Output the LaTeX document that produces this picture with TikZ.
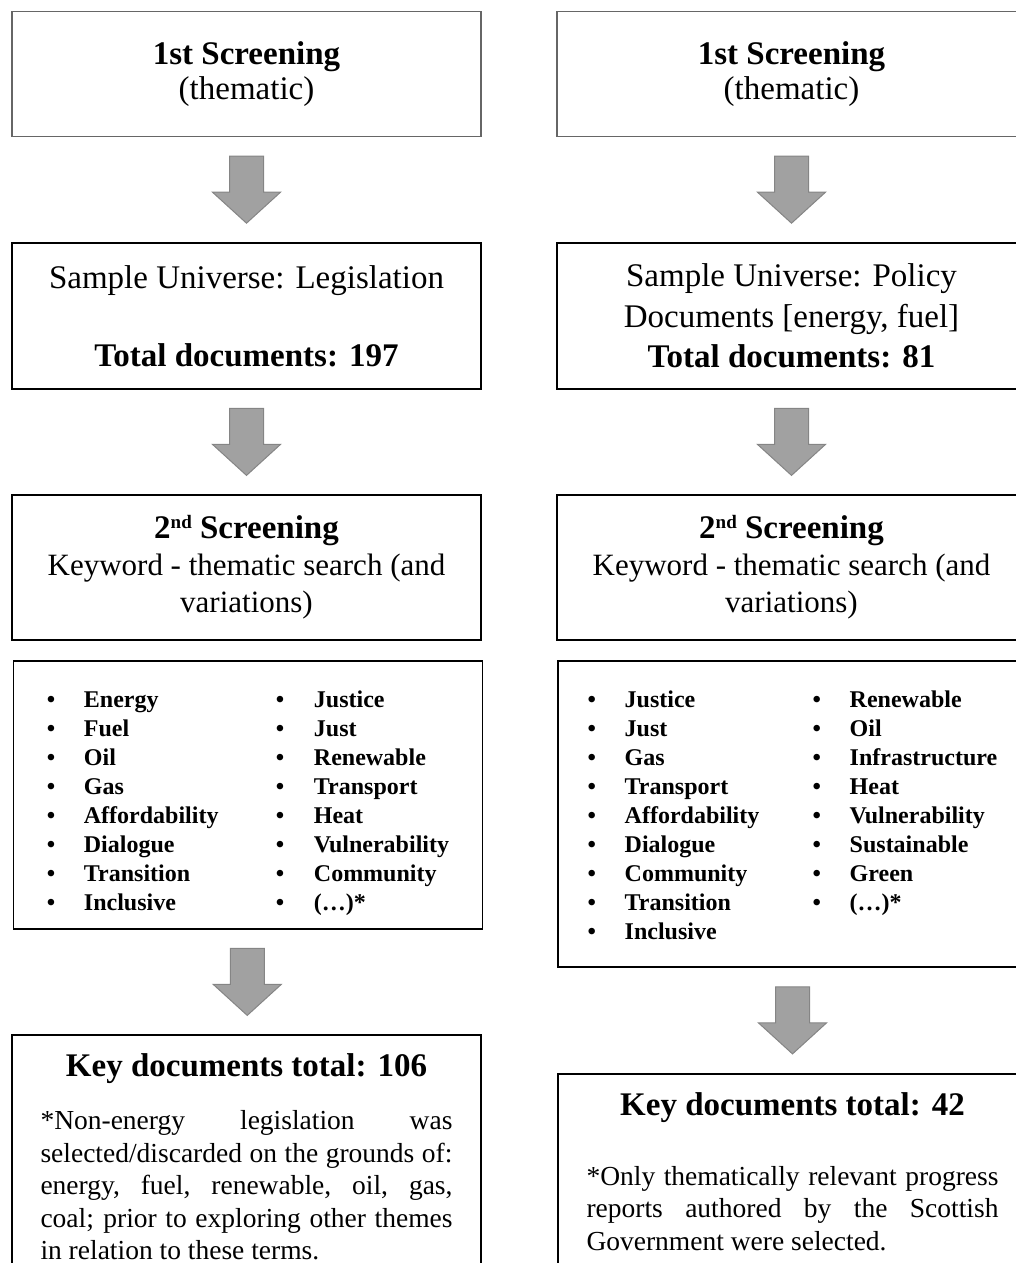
\documentclass[tikz,border=0pt]{standalone}
\usepackage{fontspec}
\setmainfont{Liberation Serif}
\usetikzlibrary{calc}
\setlength{\parindent}{0pt}
\newcommand{\ordsup}[1]{\raisebox{10pt}{\fontsize{19}{19}\selectfont #1}}

\tikzset{
	stagebox/.style={draw=black, line width=1.8pt, minimum width=469pt, anchor=north, align=center, inner sep=0pt, font=\fontsize{33}{37}\selectfont},
	thembox/.style={stagebox, draw=black!60, line width=1.4pt},
	listbox/.style={stagebox, text height=47pt, font=\fontsize{24}{29}\selectfont\bfseries},
	keybox/.style={draw=black, line width=1.8pt, anchor=north, text width=412pt, align=justify, inner xsep=28.5pt, inner ysep=19pt, font=\fontsize{27.5}{32.5}\selectfont},
	downarrow/.pic={\draw[fill=black!37, draw=black!48, line width=1pt] (-17, -33.5) -- (17, -33.5) -- (17, 2.5) -- (34, 2.5) -- (0, 33.5) -- (-34, 2.5) -- (-17, 2.5) -- cycle;}
}

\begin{document}
\begin{tikzpicture}[x=1pt, y=-1pt]
	%%%%% START %%%%%
	\useasboundingbox (0, 0) rectangle (1016, 1263);
	\clip (0, 0) rectangle (1016, 1263);
	
	%% legislation
	\node[thembox, minimum height=125pt, font=\fontsize{33}{35}\selectfont] (leg1) at (246.5, 11) {\textbf{1st Screening}\\(thematic)};
	\node[stagebox, minimum height=146pt, font=\fontsize{33}{39}\selectfont] (leg2) at (246.5, 242) {Sample Universe: Legislation\\[39pt]\textbf{Total documents: 197}};
	\node[stagebox, minimum height=145pt] (leg3) at (246.5, 494) {\textbf{2\ordsup{nd} Screening}\\{\fontsize{31}{37}\selectfont Keyword - thematic search (and}\\{\fontsize{31}{37}\selectfont variations)}};
	\node[listbox, minimum height=268pt, text depth=221pt] (leg4) at (248, 660) {\begin{tabular}[t]{@{}p{37pt}@{}p{192pt}@{}p{38pt}@{}l@{}}
		\textbullet & Energy & \textbullet & Justice \\
		\textbullet & Fuel & \textbullet & Just \\
		\textbullet & Oil & \textbullet & Renewable \\
		\textbullet & Gas & \textbullet & Transport \\
		\textbullet & Affordability & \textbullet & Heat \\
		\textbullet & Dialogue & \textbullet & Vulnerability \\
		\textbullet & Transition & \textbullet & Community \\
		\textbullet & Inclusive & \textbullet & (\ldots)* \\
	\end{tabular}};
	\node[keybox] (leg5) at (246.5, 1034) {{\centering\fontsize{33}{40}\selectfont\bfseries Key documents total: 106\par}\vspace{20.5pt}*Non-energy legislation was\linebreak selected/discarded on the grounds of:\linebreak energy, fuel, renewable, oil, gas,\linebreak coal; prior to exploring other themes\linebreak in relation to these terms.};
	
	%% policy
	\node[thembox, minimum height=125pt, font=\fontsize{33}{35}\selectfont] (pol1) at (791.5, 11) {\textbf{1st Screening}\\(thematic)};
	\node[stagebox, minimum height=146pt, font=\fontsize{33}{40.5}\selectfont] (pol2) at (791.5, 242) {Sample Universe: Policy\\Documents [energy, fuel]\\\textbf{Total documents: 81}};
	\node[stagebox, minimum height=145pt] (pol3) at (791.5, 494) {\textbf{2\ordsup{nd} Screening}\\{\fontsize{31}{37}\selectfont Keyword - thematic search (and}\\{\fontsize{31}{37}\selectfont variations)}};
	\node[listbox, minimum height=306pt, text depth=259pt] (pol4) at (792.5, 660) {\begin{tabular}[t]{@{}p{37pt}@{}p{188pt}@{}p{37pt}@{}l@{}}
		\textbullet & Justice & \textbullet & Renewable \\
		\textbullet & Just & \textbullet & Oil \\
		\textbullet & Gas & \textbullet & Infrastructure \\
		\textbullet & Transport & \textbullet & Heat \\
		\textbullet & Affordability & \textbullet & Vulnerability \\
		\textbullet & Dialogue & \textbullet & Sustainable \\
		\textbullet & Community & \textbullet & Green \\
		\textbullet & Transition & \textbullet & (\ldots)* \\
		\textbullet & Inclusive & & \\
	\end{tabular}};
	\node[keybox] (pol5) at (792.5, 1073) {{\centering\fontsize{33}{40}\selectfont\bfseries Key documents total: 42\par}\vspace{37pt}*Only thematically relevant progress\linebreak reports authored by the Scottish\linebreak Government were selected.};
	
	%% arrows
	\pic at ($(leg1.south)!0.5!(leg2.north)$) {downarrow};
	\pic at ($(leg2.south)!0.5!(leg3.north)$) {downarrow};
	\pic at ($(leg4.south)!0.5!(leg5.north)$) {downarrow};
	\pic at ($(pol1.south)!0.5!(pol2.north)$) {downarrow};
	\pic at ($(pol2.south)!0.5!(pol3.north)$) {downarrow};
	\pic at ($(pol4.south)!0.5!(pol5.north)$) {downarrow};
	
	%%%%% END %%%%%
\end{tikzpicture}
\end{document}
